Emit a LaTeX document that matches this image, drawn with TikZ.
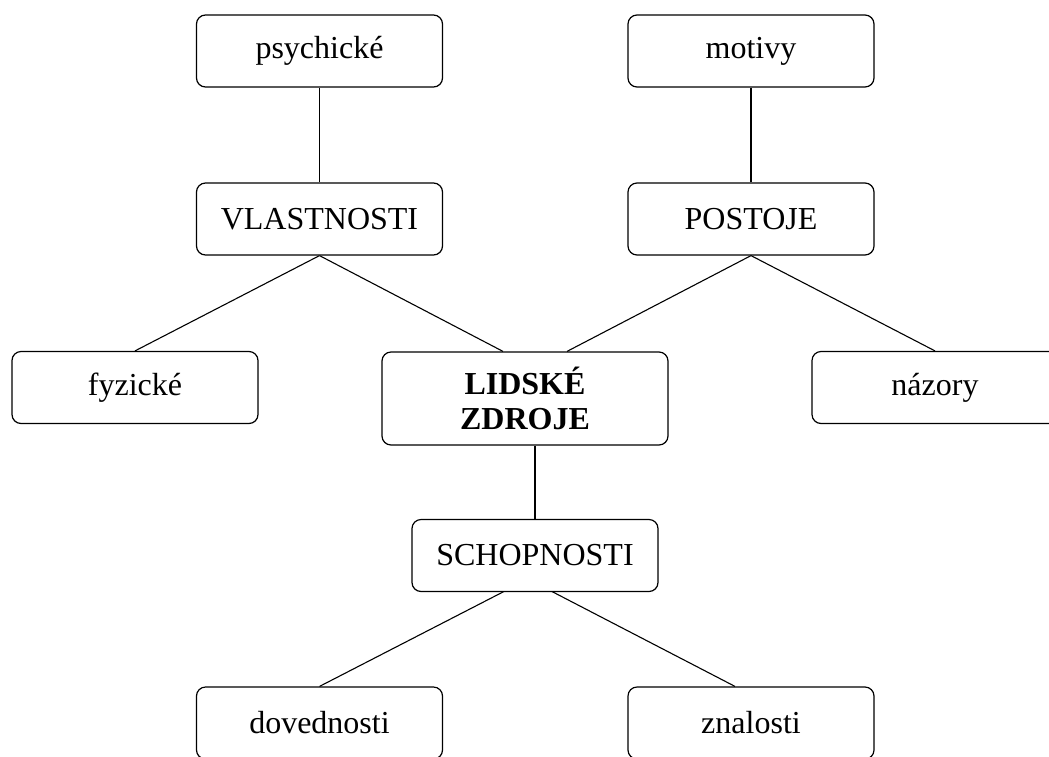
\documentclass[tikz,border=0pt]{standalone}
\usepackage{fontspec}
\setmainfont{Liberation Serif}
\usetikzlibrary{calc,backgrounds}
\begin{document}
\begin{tikzpicture}[x=1pt,y=-1pt,
  box/.style={draw, line width=1.2pt, rounded corners=9pt, fill=white,
    minimum width=246pt, minimum height=72pt, inner sep=0pt,
    font=\fontsize{32}{36}\selectfont, align=center},
  link/.style={line width=1.1pt}]
\useasboundingbox (0,0) rectangle (1049,756);
\node[box] (ps) at (319.5,51) {psychické};
\node[box] (mo) at (751,51) {motivy};
\node[box] (vl) at (319.5,219) {VLASTNOSTI};
\node[box] (po) at (751,219) {POSTOJE};
\node[box] (fy) at (135,387.5) {fyzické};
\node[box, minimum width=286pt, minimum height=93pt, font=\fontsize{32}{35}\selectfont\bfseries] (lz) at (525,398.5) {LIDSKÉ\\ZDROJE};
\node[box] (na) at (935,387.5) {názory};
\node[box] (sc) at (535,555.5) {SCHOPNOSTI};
\node[box] (dv) at (319.5,723) {dovednosti};
\node[box] (zn) at (751,723) {znalosti};
\coordinate (lzl) at ($(lz.north)+(-22,0)$);
\coordinate (lzr) at ($(lz.north)+(42,0)$);
\coordinate (scj) at ($(sc.south)+(-7,-13)$);
\coordinate (znt) at ($(zn.north)+(-16,0)$);
\begin{scope}[on background layer]
\draw[link] (ps.south) -- (vl.north);
\draw[link] (mo.south) -- (po.north);
\draw[link] (vl.south) -- (fy.north);
\draw[link] (vl.south) -- (lzl);
\draw[link] (po.south) -- (lzr);
\draw[link] (po.south) -- (na.north);
\draw[link] (lz.south -| sc.north) -- (sc.north);
\draw[link] (scj) -- (dv.north);
\draw[link] (scj) -- (znt);
\end{scope}
\end{tikzpicture}
\end{document}
